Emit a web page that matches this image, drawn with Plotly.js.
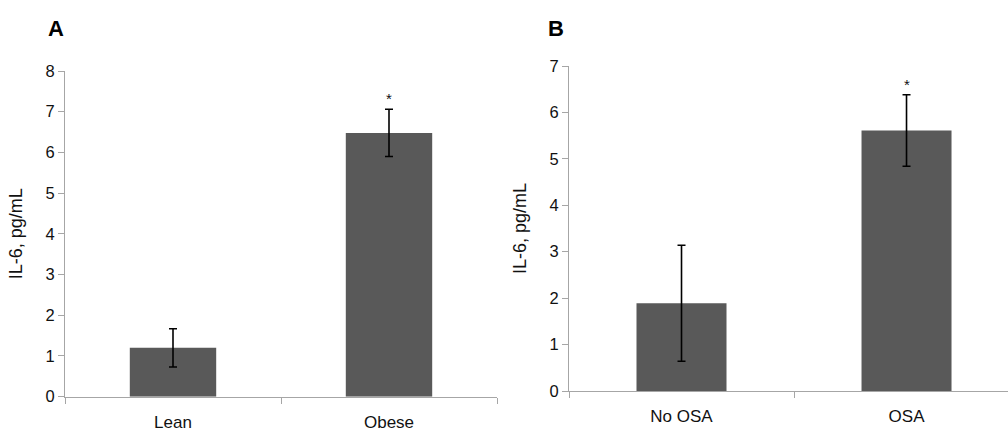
<!DOCTYPE html>
<html>
<head>
<meta charset="utf-8">
<script src="https://cdn.plot.ly/plotly-3.0.1.min.js"></script>
<style>html,body{margin:0;padding:0;background:#fff;}#chart{width:1008px;height:434px;}</style>
</head>
<body>
<div id="chart"></div>
<script>
// Panel A data
const catsA = ['Lean', 'Obese'];
const valsA = [1.2, 6.48];
const errA = [0.47, 0.58];
const sigA = ['', '*'];
// Panel B data
const catsB = ['No OSA', 'OSA'];
const valsB = [1.89, 5.61];
const errB = [1.25, 0.77];
const sigB = ['', '*'];
const yTitle = 'IL-6, pg/mL';

const FONT = 'Liberation Sans, Arial, Helvetica, sans-serif';
const barColor = '#595959';
const axisColor = '#a6a6a6';

function barTrace(cats, vals, errs, xa, ya) {
  return {
    type: 'bar', x: cats, y: vals, xaxis: xa, yaxis: ya,
    marker: {color: barColor, line: {width: 0}},
    error_y: {type: 'data', array: errs, visible: true, color: '#000', thickness: 1.6, width: 4},
    hoverinfo: 'x+y', showlegend: false
  };
}

const data = [
  barTrace(catsA, valsA, errA, 'x', 'y'),
  barTrace(catsB, valsB, errB, 'x2', 'y2')
];

function xAxis(domain, range, anchor) {
  return {
    domain: domain, range: range, anchor: anchor, type: 'category',
    showline: true, linecolor: axisColor, linewidth: 1,
    ticks: 'outside', tickson: 'boundaries', ticklen: 6, tickcolor: axisColor,
    ticklabelstandoff: 10,
    tickfont: {family: FONT, size: 17, color: '#111'},
    showgrid: false, zeroline: false, fixedrange: true
  };
}
function yAxis(domain, range, dtick, anchor) {
  return {
    domain: domain, range: range, anchor: anchor, dtick: dtick, tick0: 0,
    showline: true, linecolor: axisColor, linewidth: 1,
    ticks: 'outside', ticklen: 6, tickcolor: axisColor,
    tickfont: {family: FONT, size: 16.5, color: '#111'},
    showgrid: false, zeroline: false, fixedrange: true,
    title: {text: yTitle, font: {family: FONT, size: 18, color: '#111'}, standoff: 18}
  };
}

const annotations = [];
function addSig(cats, vals, errs, sig, xr, yr) {
  cats.forEach((c, i) => {
    if (sig[i]) annotations.push({
      x: c, y: vals[i] + errs[i], xref: xr, yref: yr, text: sig[i],
      showarrow: false, yanchor: 'bottom', yshift: 0,
      font: {family: FONT, size: 15, color: '#111'}
    });
  });
}
addSig(catsA, valsA, errA, sigA, 'x', 'y');
addSig(catsB, valsB, errB, sigB, 'x2', 'y2');
annotations.push({text: '<b>A</b>', xref: 'paper', yref: 'paper', x: 46/1008, y: 1 - 28.5/434,
  xanchor: 'left', yanchor: 'middle', showarrow: false, font: {family: FONT, size: 22, color: '#000'}});
annotations.push({text: '<b>B</b>', xref: 'paper', yref: 'paper', x: 546/1008, y: 1 - 28.5/434,
  xanchor: 'left', yanchor: 'middle', showarrow: false, font: {family: FONT, size: 22, color: '#000'}});

const layout = {
  width: 1008, height: 434,
  margin: {l: 0, r: 0, t: 0, b: 0},
  paper_bgcolor: '#fff', plot_bgcolor: '#fff',
  bargap: 0.6,
  showlegend: false,
  font: {family: FONT},
  xaxis: xAxis([65/1008, 497/1008], [-0.5, 1.5], 'y'),
  yaxis: yAxis([1 - 396.7/434, 1 - 71/434], [0, 8], 1, 'x'),
  xaxis2: xAxis([569/1008, 1], [-0.5, 1.451], 'y2'),
  yaxis2: yAxis([1 - 391/434, 1 - 66/434], [0, 7], 1, 'x2'),
  annotations: annotations
};

Plotly.newPlot('chart', data, layout, {displayModeBar: false, staticPlot: true});
</script>
</body>
</html>
